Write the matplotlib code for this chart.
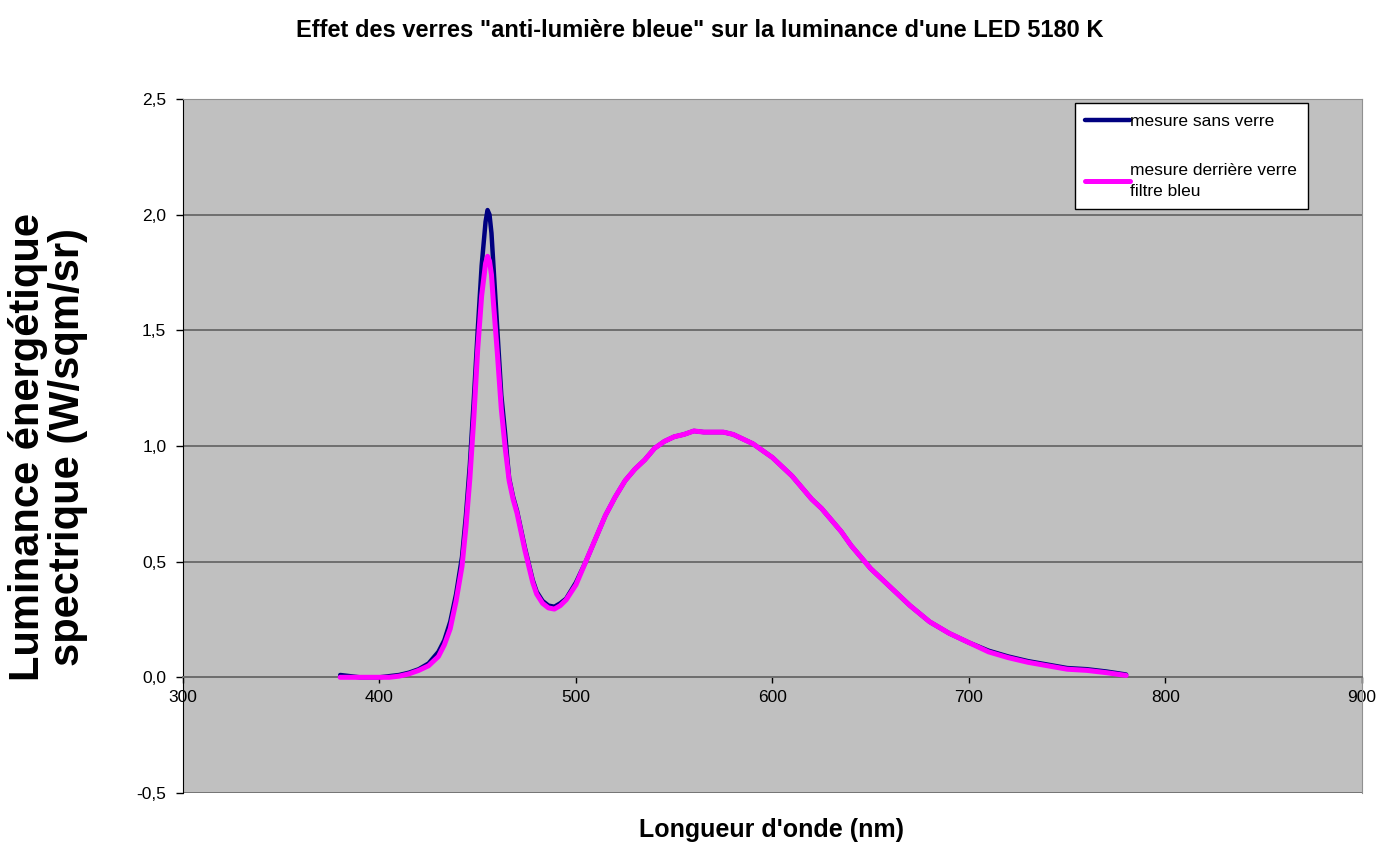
import matplotlib
matplotlib.use("Agg")
import matplotlib.pyplot as plt
from matplotlib.ticker import FuncFormatter, MultipleLocator

plt.rcParams['font.family'] = ['Liberation Sans', 'DejaVu Sans']

title = 'Effet des verres "anti-lumière bleue" sur la luminance d\'une LED 5180 K'
xlabel = "Longueur d'onde (nm)"
ylabel = "Luminance énergétique\nspectrique (W/sqm/sr)"
label_sans = "mesure sans verre"
label_filtre = "mesure derrière verre\nfiltre bleu"

wavelength = [380, 385, 390, 395, 400, 405, 410, 415, 420, 425, 430, 433, 436, 439,
              442, 444, 446, 448, 450, 452, 454, 455, 456, 457, 458, 460, 462, 464,
              465, 466, 468, 470, 472, 474, 476, 478, 480, 483, 486, 489, 492, 495,
              500, 505, 510, 515, 520, 525, 530, 535, 540, 545, 550, 555, 560, 565,
              570, 575, 580, 585, 590, 595, 600, 605, 610, 615, 620, 625, 630, 635,
              640, 645, 650, 660, 670, 680, 690, 700, 710, 720, 730, 740, 750, 760,
              770, 780]

sans_verre = [0.01, 0.005, 0.0, 0.0, 0.0, 0.005, 0.01, 0.02, 0.035, 0.06, 0.11, 0.16, 0.24, 0.36,
              0.52, 0.70, 0.92, 1.20, 1.50, 1.78, 1.97, 2.02, 2.00, 1.92, 1.78, 1.50, 1.22, 1.05,
              0.95, 0.86, 0.78, 0.72, 0.64, 0.56, 0.49, 0.42, 0.37, 0.33, 0.31, 0.305, 0.32, 0.34,
              0.41, 0.50, 0.60, 0.70, 0.78, 0.85, 0.90, 0.94, 0.99, 1.02, 1.04, 1.05, 1.065, 1.06,
              1.06, 1.06, 1.05, 1.03, 1.01, 0.98, 0.95, 0.91, 0.87, 0.82, 0.77, 0.73, 0.68, 0.63,
              0.57, 0.52, 0.47, 0.39, 0.31, 0.24, 0.19, 0.15, 0.115, 0.09, 0.07, 0.055, 0.04, 0.035,
              0.025, 0.012]

filtre_bleu = [0.0, 0.0, 0.0, 0.0, 0.0, 0.0, 0.005, 0.015, 0.03, 0.05, 0.09, 0.14, 0.21, 0.33,
               0.48, 0.65, 0.86, 1.12, 1.42, 1.65, 1.79, 1.82, 1.80, 1.74, 1.62, 1.40, 1.16, 0.99,
               0.92, 0.85, 0.77, 0.71, 0.63, 0.55, 0.48, 0.41, 0.36, 0.32, 0.30, 0.295, 0.31, 0.335,
               0.40, 0.50, 0.60, 0.70, 0.78, 0.85, 0.90, 0.94, 0.99, 1.02, 1.04, 1.05, 1.065, 1.06,
               1.06, 1.06, 1.05, 1.03, 1.01, 0.98, 0.95, 0.91, 0.87, 0.82, 0.77, 0.73, 0.68, 0.63,
               0.57, 0.52, 0.47, 0.39, 0.31, 0.24, 0.19, 0.15, 0.11, 0.085, 0.065, 0.05, 0.035, 0.03,
               0.02, 0.008]

fig = plt.figure(figsize=(13.8, 8.47), dpi=100)
fig.patch.set_facecolor('white')
ax = fig.add_axes([0.1326, 0.0638, 0.8543, 0.8193])
ax.set_facecolor('#C0C0C0')

ax.plot(wavelength, sans_verre, color='#000080', lw=3.2, label=label_sans, zorder=3,
        solid_joinstyle='round', solid_capstyle='round')
ax.plot(wavelength, filtre_bleu, color='#FF00FF', lw=3.6, label=label_filtre, zorder=4,
        solid_joinstyle='round', solid_capstyle='round')

ax.set_xlim(300, 900)
ax.set_ylim(-0.5, 2.5)
ax.xaxis.set_major_locator(MultipleLocator(100))
ax.yaxis.set_major_locator(MultipleLocator(0.5))
ax.yaxis.set_major_formatter(FuncFormatter(lambda v, p: f"{v:.1f}".replace('.', ',')))
ax.grid(axis='y', color='#6E6E6E', lw=1.4)
ax.set_axisbelow(True)

ax.spines['bottom'].set_position(('data', 0))
ax.spines['bottom'].set_color('#6E6E6E')
ax.spines['bottom'].set_linewidth(1.4)
ax.spines['left'].set_color('black')
ax.spines['top'].set_color('#909090')
ax.spines['right'].set_color('#909090')
ax.axhline(-0.5, color='#909090', lw=1.0)

ax.tick_params(axis='x', direction='out', length=4, width=1, colors='black', labelsize=12.5, pad=5)
ax.tick_params(axis='y', direction='out', length=5, width=1, colors='black', labelsize=12.5, pad=7)

fig.text(0.507, 0.964, title, ha='center', va='center', fontsize=17, fontweight='bold')
fig.text(0.559, 0.020, xlabel, ha='center', va='center', fontsize=18, fontweight='bold')
fig.text(0.035, 0.472, ylabel, ha='center', va='center', rotation=90, fontsize=30,
         fontweight='bold', linespacing=1.0)

leg = ax.legend(loc='upper right', bbox_to_anchor=(0.954, 0.994), fontsize=12.5,
                frameon=True, fancybox=False, edgecolor='black', framealpha=1,
                handlelength=2.6, handletextpad=0.0, labelspacing=2.0,
                borderpad=0.6, borderaxespad=0.0)
leg.get_frame().set_linewidth(1.0)
leg.get_texts()[1].set_linespacing(1.45)

fig.savefig('out.png', dpi=100)
